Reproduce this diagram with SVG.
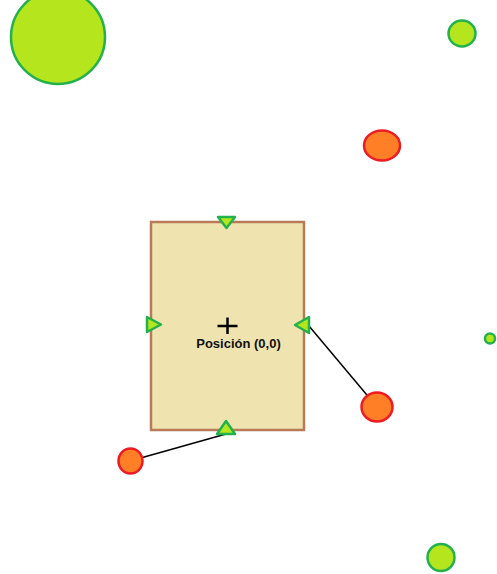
<svg xmlns="http://www.w3.org/2000/svg" width="497" height="574" viewBox="0 0 497 574">
<style>
.lime{fill:#b5e61d;stroke:#22b14c;stroke-width:2.5}
.orange{fill:#ff7f27;stroke:#ed1c24;stroke-width:2.5}
.tri{fill:#b5e61d;stroke:#22b14c;stroke-width:2.5;stroke-linejoin:round}
.conn{stroke:#000;stroke-width:1.5;fill:none}
.lbl{font-family:"Liberation Sans",Arial,sans-serif;font-weight:bold;font-size:13px;fill:#111;text-anchor:middle}
</style>
<rect width="497" height="574" fill="#ffffff"/>
<g id="connectors">
<line class="conn" x1="309" y1="326" x2="377" y2="407"/>
<line class="conn" x1="226" y1="434" x2="130" y2="461"/>
</g>
<g id="base">
<rect x="151" y="222" width="153" height="208" fill="#efe4b0" stroke="#b97a57" stroke-width="2.5"/>
<path d="M217.5 326H237.5M227.5 317.5V334" stroke="#000" stroke-width="2.5" fill="none"/>
<text class="lbl" x="238.5" y="348">Posición (0,0)</text>
</g>
<g id="port-top"><polygon class="tri" points="218,217 235,217 226.5,228"/></g>
<g id="port-left"><polygon class="tri" points="147,317 147,332 161,324.5"/></g>
<g id="port-right"><polygon class="tri" points="309,317 309,333 295,325"/></g>
<g id="port-bottom"><polygon class="tri" points="217,434 235,434 226,421"/></g>
<g id="big-circle"><circle class="lime" cx="58" cy="37" r="47"/></g>
<g id="circle-top-right"><ellipse class="lime" cx="462" cy="33.5" rx="13.5" ry="13"/></g>
<g id="orange-top"><ellipse class="orange" cx="382" cy="145.5" rx="18" ry="15"/></g>
<g id="dot-right"><circle class="lime" cx="490" cy="338.5" r="5" stroke-width="2"/></g>
<g id="orange-right"><ellipse class="orange" cx="377" cy="407" rx="15.5" ry="14.5"/></g>
<g id="orange-left"><ellipse class="orange" cx="130.5" cy="461" rx="12" ry="12.5"/></g>
<g id="circle-bottom-right"><circle class="lime" cx="441" cy="557.5" r="13.5"/></g>
</svg>
